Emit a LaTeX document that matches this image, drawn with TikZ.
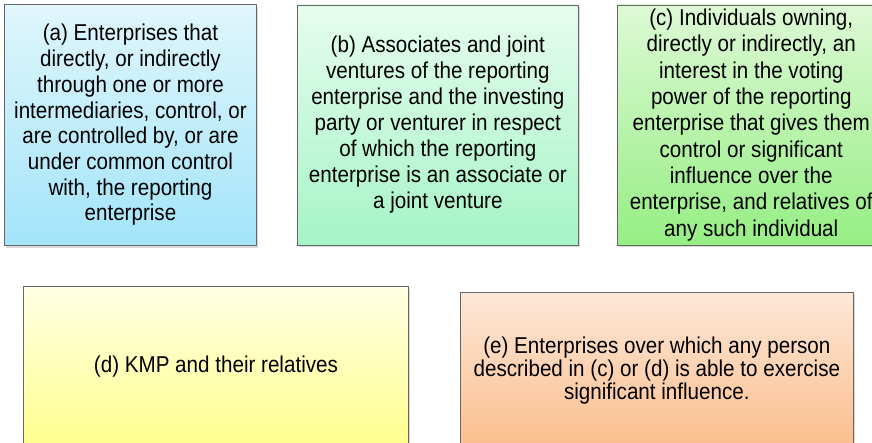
\documentclass[tikz,border=0pt]{standalone}
\usepackage{fontspec}
\setmainfont{Liberation Sans}[FakeStretch=0.9]
\usetikzlibrary{positioning, shadows}
\definecolor{bluetop}{HTML}{E0F6FC}
\definecolor{bluebot}{HTML}{A3E4F9}
\definecolor{minttop}{HTML}{E6FCEF}
\definecolor{mintbot}{HTML}{A6F4C6}
\definecolor{greentop}{HTML}{DDF9D5}
\definecolor{greenbot}{HTML}{96EE84}
\definecolor{yellowtop}{HTML}{FFFFE4}
\definecolor{yellowbot}{HTML}{FFFF8E}
\definecolor{peachtop}{HTML}{FDE7D8}
\definecolor{peachbot}{HTML}{FBBE8C}
\tikzset{
	box/.style={rectangle, draw=black!60, line width=0.9pt, align=center, inner sep=4pt,
		font=\fontsize{22.9}{#1}\selectfont,
		drop shadow={shadow xshift=1.5pt, shadow yshift=-2.5pt, opacity=0.3}},
	box/.default=23.3,
	bluebox/.style={box=25.7, top color=bluetop, bottom color=bluebot},
	mintbox/.style={box=26, top color=minttop, bottom color=mintbot},
	greenbox/.style={box=26.3, top color=greentop, bottom color=greenbot},
	yellowbox/.style={box, top color=yellowtop, bottom color=yellowbot},
	peachbox/.style={box=23.3, top color=peachtop, bottom color=peachbot}
}
\begin{document}
\begin{tikzpicture}[x=1pt, y=-1pt]
	\useasboundingbox (0,0) rectangle (872,442);
	
	% === TOP ROW ===
	\node[bluebox, minimum width=252pt, minimum height=241pt, anchor=north west] (enterprises) at (4,4)
		{(a) Enterprises that\\ directly, or indirectly\\ through one or more\\ intermediaries, control, or\\ are controlled by, or are\\ under common control\\ with, the reporting\\ enterprise};
	\node[mintbox, minimum width=281pt, minimum height=240pt, right=40pt of enterprises] (associates)
		{(b) Associates and joint\\ ventures of the reporting\\ enterprise and the investing\\ party or venturer in respect\\ of which the reporting\\ enterprise is an associate or\\ a joint venture};
	\node[greenbox, minimum width=268pt, minimum height=240pt, right=38pt of associates] (individuals)
		{(c) Individuals owning,\\ directly or indirectly, an\\ interest in the voting\\ power of the reporting\\ enterprise that gives them\\ control or significant\\ influence over the\\ enterprise, and relatives of\\ any such individual};
	
	% === BOTTOM ROW ===
	\node[yellowbox, minimum width=385pt, minimum height=160pt, anchor=north west] (kmp) at (23,286)
		{(d) KMP and their relatives};
	\node[peachbox, minimum width=393pt, minimum height=156pt, right=51pt of kmp, yshift=-4pt] (influence)
		{(e) Enterprises over which any person\\ described in (c) or (d) is able to exercise\\ significant influence.};
\end{tikzpicture}
\end{document}
